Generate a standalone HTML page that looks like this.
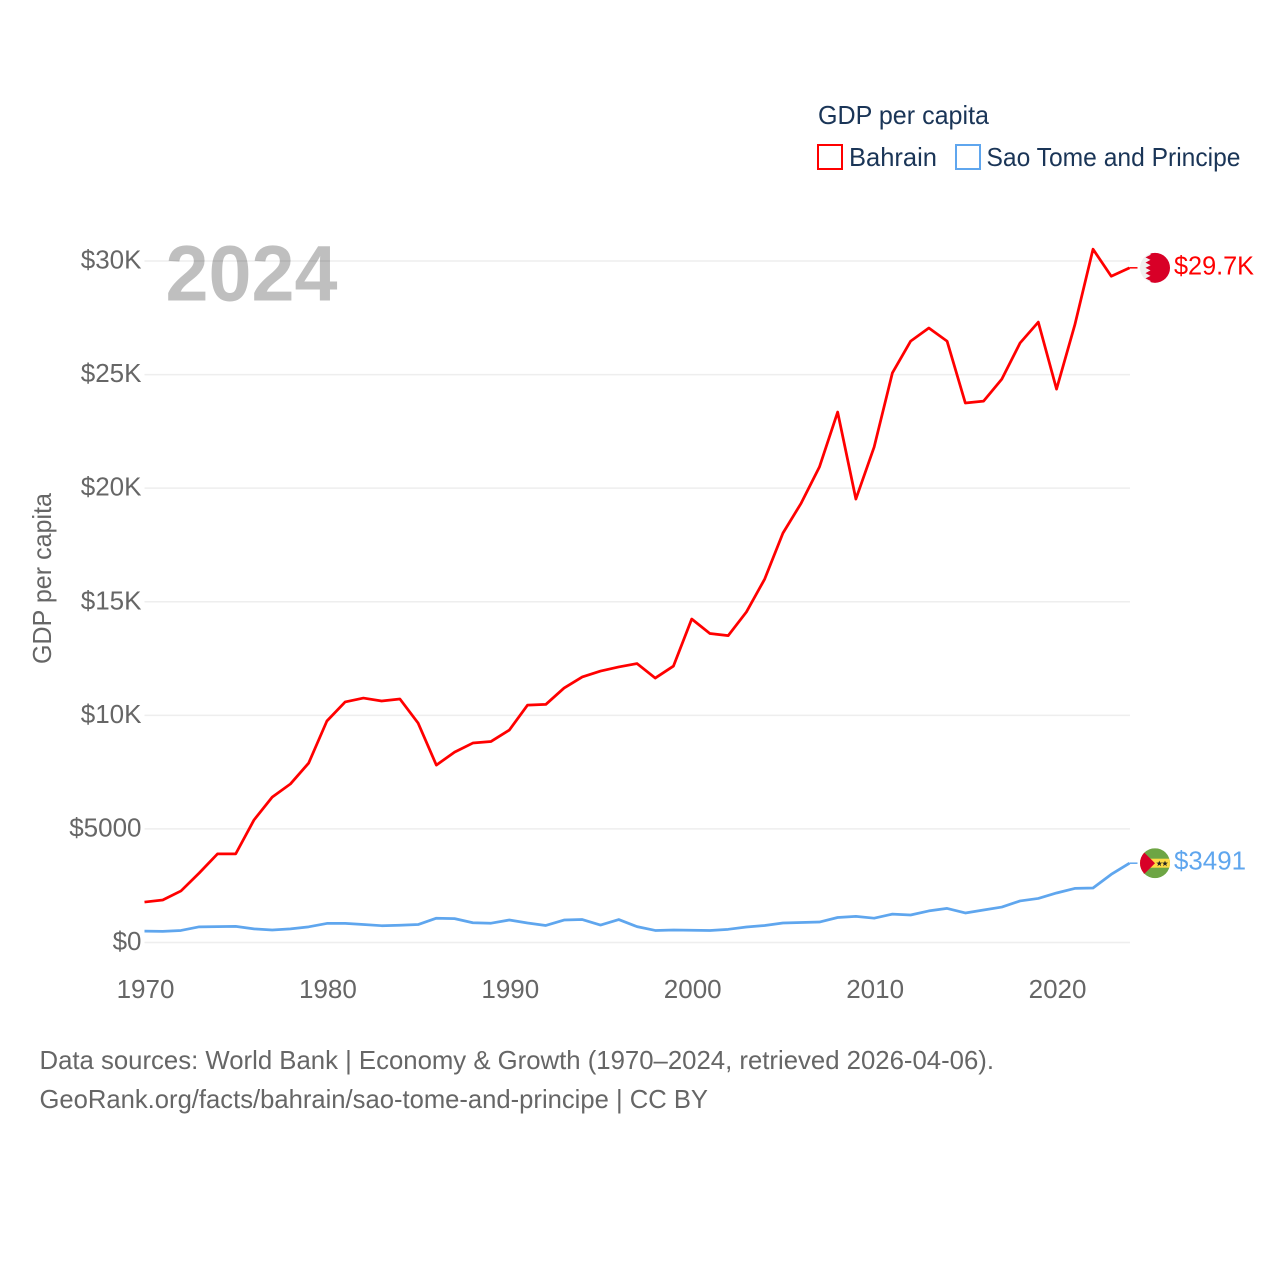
<!DOCTYPE html>
<html lang="en">
<head>
<meta charset="utf-8">
<title>GDP per capita: Bahrain and Sao Tome and Principe</title>
<style>
html,body{margin:0;padding:0;background:#fff;}
svg{display:block;}
text{font-family:"Liberation Sans",sans-serif;}
</style>
</head>
<body>
<svg id="chart" xmlns="http://www.w3.org/2000/svg" width="1280" height="1280" viewBox="0 0 1280 1280">
  <rect width="1280" height="1280" fill="#ffffff"/>
  <g id="grid"></g>
  <g id="yticks"></g>
  <g id="xticks"></g>
  <text x="165.5" y="300.5" font-size="79" font-weight="700" fill="#000000" fill-opacity="0.25" textLength="172" lengthAdjust="spacingAndGlyphs">2024</text>
  <text transform="translate(51,578.5) rotate(-90)" text-anchor="middle" font-size="26" fill="#666666" textLength="171" lengthAdjust="spacingAndGlyphs">GDP per capita</text>
  <g id="series"></g>
  <g id="flags"></g>
  <g>
    <text x="818" y="124" font-size="26" fill="#1a3557" textLength="171" lengthAdjust="spacingAndGlyphs">GDP per capita</text>
    <g>
      <rect x="818" y="145" width="24" height="24" fill="none" stroke="#ff0000" stroke-width="2"/>
      <text x="849" y="166" font-size="26" fill="#1a3557" textLength="88" lengthAdjust="spacingAndGlyphs">Bahrain</text>
    </g>
    <g>
      <rect x="956" y="145" width="24" height="24" fill="none" stroke="#5fa6ee" stroke-width="2"/>
      <text x="986.5" y="166" font-size="26" fill="#1a3557" textLength="254" lengthAdjust="spacingAndGlyphs">Sao Tome and Principe</text>
    </g>
  </g>
  <g>
    <text x="39.5" y="1069" font-size="26" fill="#666666" textLength="954.5" lengthAdjust="spacingAndGlyphs">Data sources: World Bank | Economy &amp; Growth (1970–2024, retrieved 2026-04-06).</text>
    <text x="39.5" y="1108" font-size="26" fill="#666666" textLength="668.5" lengthAdjust="spacingAndGlyphs">GeoRank.org/facts/bahrain/sao-tome-and-principe | CC BY</text>
  </g>
</svg>
<script>
const years = [1970,1971,1972,1973,1974,1975,1976,1977,1978,1979,1980,1981,1982,1983,1984,1985,1986,1987,1988,1989,1990,1991,1992,1993,1994,1995,1996,1997,1998,1999,2000,2001,2002,2003,2004,2005,2006,2007,2008,2009,2010,2011,2012,2013,2014,2015,2016,2017,2018,2019,2020,2021,2022,2023,2024];
const bahrainValues = [1780,1870,2270,3060,3900,3900,5390,6400,6980,7900,9750,10590,10760,10630,10720,9660,7810,8380,8780,8850,9350,10450,10480,11200,11690,11950,12130,12280,11640,12170,14240,13600,13510,14550,16000,18020,19340,20930,23350,19520,21810,25070,26470,27050,26470,23750,23830,24800,26390,27310,24360,27180,30520,29330,29700];
const saoTomeValues = [500,490,530,690,700,710,600,550,600,690,840,840,790,740,760,790,1070,1050,870,850,990,860,750,990,1010,770,1010,700,530,550,540,530,580,680,750,860,880,900,1100,1150,1070,1250,1210,1390,1500,1300,1430,1560,1830,1940,2180,2380,2400,3000,3491];
const yTickValues = [0,5000,10000,15000,20000,25000,30000];
const yTickLabels = ["$0","$5000","$10K","$15K","$20K","$25K","$30K"];
const xTickValues = [1970,1980,1990,2000,2010,2020];
const endLabels = ["$29.7K","$3491"];

const NS = "http://www.w3.org/2000/svg";
const xScale = function (year) { return 144.5 + (year - 1970) * (1129.5 - 144.5) / (2024 - 1970); };
const yScale = function (value) { return 942.5 - value * 681.5 / 30000; };

function make(tag, attrs, parent, content) {
  const el = document.createElementNS(NS, tag);
  Object.keys(attrs).forEach(function (k) { el.setAttribute(k, attrs[k]); });
  if (content !== undefined) el.textContent = content;
  parent.appendChild(el);
  return el;
}

const gridGroup = document.getElementById("grid");
const yTickGroup = document.getElementById("yticks");
yTickValues.forEach(function (v, i) {
  const line = make("line", {x1: xScale(1970), x2: xScale(2024) + 0.5, y1: yScale(v), y2: yScale(v), stroke: "#eeeeee", "stroke-width": 1.5}, gridGroup);
  
  
  const label = make("text", {x: 141.5, y: yScale(v) + 7.5, "text-anchor": "end", "font-size": 26, fill: "#666666"}, yTickGroup, yTickLabels[i]);
  
  
});

const xTickGroup = document.getElementById("xticks");
xTickValues.forEach(function (v) {
  const label = make("text", {x: xScale(v) + 1, y: 998, "text-anchor": "middle", "font-size": 26, fill: "#666666"}, xTickGroup, String(v));
  
  
});

const seriesGroup = document.getElementById("series");
function linePoints(values) {
  return values.map(function (v, i) { return xScale(years[i]).toFixed(2) + "," + yScale(v).toFixed(2); }).join(" ");
}
const bahrainLine = make("polyline", {points: linePoints(bahrainValues), fill: "none", stroke: "#ff0000", "stroke-width": 2.75, "stroke-linejoin": "round"}, seriesGroup);


const saoTomeLine = make("polyline", {points: linePoints(saoTomeValues), fill: "none", stroke: "#5fa6ee", "stroke-width": 2.75, "stroke-linejoin": "round"}, seriesGroup);



const flagsGroup = document.getElementById("flags");
const defs = make("defs", {}, flagsGroup);
const clip = make("clipPath", {id: "flag-clip"}, defs);
make("circle", {cx: 0, cy: 0, r: 15}, clip);

const lastIndex = years.length - 1;
const endX = xScale(years[lastIndex]);
const flagX = 1155;

const bahrainY = yScale(bahrainValues[lastIndex]);
const bahrainLeader = make("line", {x1: endX, x2: flagX - 17.5, y1: bahrainY, y2: bahrainY, stroke: "#ff0000", "stroke-width": 1.5}, flagsGroup);


const bahrainFlag = make("g", {transform: "translate(" + flagX + "," + bahrainY + ")", "clip-path": "url(#flag-clip)"}, flagsGroup);


make("rect", {x: -15, y: -15, width: 30, height: 30, fill: "#f0f0f0"}, bahrainFlag);
make("polygon", {points: "16,-16 -4.5,-16 -4.5,-13 -9.5,-10.5 -4.5,-8 -9.5,-5.25 -4.5,-2.6 -9.5,0 -4.5,2.6 -9.5,5.25 -4.5,8 -9.5,10.5 -4.5,13 -4.5,16 16,16", fill: "#d80027"}, bahrainFlag);
const bahrainValueLabel = make("text", {x: 1174, y: bahrainY + 6.5, "font-size": 26, fill: "#ff0000", textLength: 80, lengthAdjust: "spacingAndGlyphs"}, flagsGroup, endLabels[0]);



const saoTomeY = yScale(saoTomeValues[lastIndex]);
const saoTomeLeader = make("line", {x1: endX, x2: flagX - 17.5, y1: saoTomeY, y2: saoTomeY, stroke: "#5fa6ee", "stroke-width": 1.5}, flagsGroup);


const saoTomeFlag = make("g", {transform: "translate(" + flagX + "," + saoTomeY + ")", "clip-path": "url(#flag-clip)"}, flagsGroup);


make("rect", {x: -15, y: -15, width: 30, height: 30, fill: "#6da544"}, saoTomeFlag);
make("rect", {x: -15, y: -4.5, width: 30, height: 9, fill: "#ffda44"}, saoTomeFlag);
make("polygon", {points: "-15,-15 0,0 -15,15", fill: "#d80027"}, saoTomeFlag);
const starShape = "0,-3 0.8,-1 3,-1 1.2,0.4 1.9,2.6 0,1.2 -1.9,2.6 -1.2,0.4 -3,-1 -0.8,-1";
make("polygon", {points: starShape, fill: "#222222", transform: "translate(4.3,0.4)"}, saoTomeFlag);
make("polygon", {points: starShape, fill: "#222222", transform: "translate(10,0.4)"}, saoTomeFlag);
const saoTomeValueLabel = make("text", {x: 1174, y: saoTomeY + 6.5, "font-size": 26, fill: "#5fa6ee", textLength: 72, lengthAdjust: "spacingAndGlyphs"}, flagsGroup, endLabels[1]);


</script>
</body>
</html>
